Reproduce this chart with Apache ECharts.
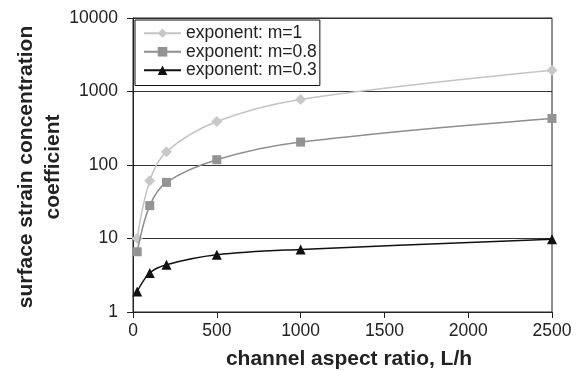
<!DOCTYPE html>
<html>
<head>
<meta charset="utf-8">
<script src="https://cdn.jsdelivr.net/npm/echarts@6/dist/echarts.min.js"></script>
<style>
  html, body { margin: 0; padding: 0; background: #fff; }
  #chart { width: 579px; height: 371px; }
</style>
</head>
<body>
<div id="chart"></div>
<script>
// aspect ratios L/h (x) and coefficients
var ratios = [25, 100, 200, 500, 1000, 2500];
var m1 = [10, 61, 152, 390, 780, 1950];
var m08 = [6.6, 28, 58, 118, 205, 430];
var m03 = [1.9, 3.4, 4.4, 6.0, 7.1, 9.8];
var seriesNames = ['exponent: m=1', 'exponent: m=0.8', 'exponent: m=0.3'];

function pairs(ys) {
    return ratios.map(function (x, i) { return [x, ys[i]]; });
}

var font = 'Liberation Sans, Arial, sans-serif';

var chart = echarts.init(document.getElementById('chart'));

var option = {
    animation: false,
    backgroundColor: '#fff',
    textStyle: { fontFamily: font },
    grid: {
        left: 133,
        right: 27,
        top: 18,
        bottom: 59,
        outerBoundsMode: 'none',
        containLabel: false,
        show: true,
        borderColor: '#222',
        borderWidth: 1,
        backgroundColor: 'transparent'
    },
    legend: {
        orient: 'vertical',
        left: 135,
        top: 20,
        data: seriesNames,
        backgroundColor: '#fff',
        borderColor: '#111',
        borderWidth: 1,
        borderRadius: 0,
        padding: [4, 3, 6, 8],
        itemGap: 0,
        itemWidth: 37,
        itemHeight: 12,
        textStyle: {
            fontFamily: font,
            fontSize: 17.5,
            color: '#222',
            lineHeight: 18.5
        }
    },
    xAxis: {
        type: 'value',
        min: 0,
        max: 2500,
        interval: 500,
        name: 'channel aspect ratio, L/h',
        nameLocation: 'middle',
        nameGap: 37,
        nameMoveOverlap: false,
        nameTextStyle: {
            fontFamily: font, fontSize: 21, fontWeight: 'bold', color: '#222',
            padding: [0, 0, 0, 13]
        },
        axisLine: { show: true, lineStyle: { color: '#222', width: 1 } },
        axisTick: { show: true, inside: false, length: 6, lineStyle: { color: '#222' } },
        axisLabel: {
            fontFamily: font, fontSize: 17.5, color: '#222', margin: 10,
            formatter: function (v) { return String(v); }
        },
        splitLine: { show: false }
    },
    yAxis: {
        type: 'log',
        logBase: 10,
        min: 1,
        max: 10000,
        name: 'surface strain concentration\ncoefficient',
        nameLocation: 'middle',
        nameGap: 66,
        nameMoveOverlap: false,
        nameTextStyle: {
            fontFamily: font, fontSize: 21, fontWeight: 'bold', color: '#222', lineHeight: 27,
            padding: [0, 4, 0, 0]
        },
        axisLine: { show: true, lineStyle: { color: '#222', width: 1 } },
        axisTick: { show: true, inside: false, length: 6, lineStyle: { color: '#222' } },
        axisLabel: {
            fontFamily: font, fontSize: 17.5, color: '#222', margin: 15,
            formatter: function (v) { return String(Math.round(v)); }
        },
        splitLine: { show: true, lineStyle: { color: '#333', width: 1 } },
        minorTick: { show: false },
        minorSplitLine: { show: false }
    },
    series: [
        {
            name: seriesNames[0],
            type: 'line',
            smooth: 0.35,
            data: pairs(m1),
            symbol: 'diamond',
            symbolSize: 11,
            lineStyle: { color: '#c4c4c4', width: 1.5 },
            itemStyle: { color: '#c8c8c8' },
            z: 3
        },
        {
            name: seriesNames[1],
            type: 'line',
            smooth: 0.35,
            data: pairs(m08),
            symbol: 'rect',
            symbolSize: 9,
            lineStyle: { color: '#8e8e8e', width: 1.5 },
            itemStyle: { color: '#939393' },
            z: 4
        },
        {
            name: seriesNames[2],
            type: 'line',
            smooth: 0.35,
            data: pairs(m03),
            symbol: 'triangle',
            symbolSize: 10,
            lineStyle: { color: '#111', width: 1.5 },
            itemStyle: { color: '#111' },
            z: 5
        }
    ]
};

chart.setOption(option);
</script>
</body>
</html>
